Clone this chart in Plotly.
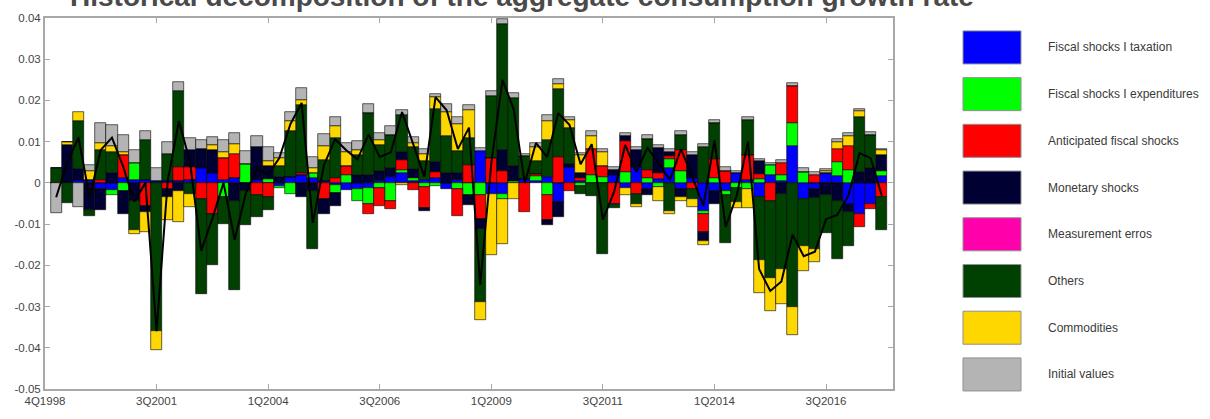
import plotly.graph_objects as go

# quarter index of each bar (1 = first observation after 4Q1998)
periods = list(range(1, 76))

tick_pos = [0, 10, 20, 30, 40, 50, 60, 70]
tick_labels = ['4Q1998', '3Q2001', '1Q2004', '3Q2006', '1Q2009', '3Q2011', '1Q2014', '3Q2016']

y_ticks = [-0.05, -0.04, -0.03, -0.02, -0.01, 0, 0.01, 0.02, 0.03, 0.04]
y_labels = ['-0.05', '-0.04', '-0.03', '-0.02', '-0.01', '0', '0.01', '0.02', '0.03', '0.04']

# contributions
taxation = [0, 0.0003, 0.0008, 0.0008, -0.0015, -0.0018, 0.0012, 0.0008, 0.0008, 0.0005,
            0.0005, 0.0004, 0.0008, 0.0035, 0.0025, 0.0008, 0.0012, 0, 0.0008, 0,
            -0.0008, 0.0015, 0.0018, 0.0012, 0.0005, -0.0005, -0.0018, -0.0015, -0.0012, 0.0005,
            0.0015, 0.0023, 0.0005, 0.0008, 0.0012, -0.0016, 0.0008, 0, 0.0078, -0.0028,
            -0.0028, 0, 0.001, 0.0005, 0.0015, -0.0047, 0.0039, 0.0004, 0, 0,
            0.0018, -0.0012, 0.0039, -0.0015, 0.001, 0.0035, -0.0015, 0.0012, -0.0067, -0.002,
            -0.002, 0.0025, 0.0008, -0.0035, 0.002, 0.0005, 0.009, -0.0039, -0.0015, 0.0024,
            0.0016, -0.005, -0.0075, -0.005, 0.0016]
expenditures = [0, 0, 0, 0, 0, -0.0012, -0.002, 0.004, 0, 0,
                0, 0, 0, 0, 0, -0.0035, 0, 0.0045, 0, 0.001,
                -0.0005, -0.0028, 0, 0.0012, 0, -0.002, 0.002, -0.003, -0.004, -0.0012,
                -0.0043, 0.0008, 0.0008, -0.001, -0.0008, 0, -0.0015, -0.003, -0.003, 0,
                -0.0012, 0.0005, 0, 0.0012, -0.003, 0, 0, -0.0007, 0.002, 0.0015,
                0, 0.0027, 0, 0.0012, -0.001, 0.0022, 0.003, 0, -0.0008, 0.0012,
                -0.001, -0.0012, -0.0015, 0.001, 0.0023, 0.0015, 0.0055, 0.0027, 0, 0,
                0.0035, 0.0031, 0, 0, 0.0012]
anticipated = [0, 0, 0, 0, 0.0006, 0, 0.0055, 0, -0.0055, 0,
               -0.0015, 0.0035, 0.003, -0.004, -0.0075, 0.0052, 0.0058, 0, -0.003, -0.0035,
               0, 0, 0.0005, 0, -0.0039, 0.0012, 0.002, 0, -0.0023, -0.0045,
               -0.002, 0.0024, -0.0018, -0.005, 0.0015, 0, -0.0065, 0.0043, -0.0058, 0.006,
               0.003, 0, -0.007, 0.0005, -0.006, 0.0063, -0.002, 0.0008, 0.0062, 0.0025,
               -0.005, 0.0075, -0.0027, 0.002, 0.0015, 0.0008, 0.005, -0.0015, -0.0043, 0.0045,
               0.003, 0, 0.006, 0.0012, -0.0045, 0.0028, 0.009, 0, 0.002, 0,
               0.0031, 0.0059, -0.0033, -0.0013, -0.0035]
monetary = [0, 0.009, 0.0025, -0.0065, -0.005, 0.0023, -0.0055, -0.0045, -0.0015, 0,
            -0.002, -0.002, 0.0042, 0.0047, 0.0055, 0, -0.0043, -0.002, 0.0078, 0.003,
            0.0015, 0, -0.0035, -0.002, -0.0036, -0.003, 0, 0.0018, 0.002, 0.0025,
            0.002, 0.002, 0.002, -0.0008, 0.0024, 0.0023, 0.0015, -0.0024, -0.0025, 0,
            0.005, 0.0035, 0, 0, -0.0012, -0.0035, 0.0008, 0.0012, 0, 0,
            0.0014, 0.0012, 0.004, -0.0015, 0.006, 0.001, -0.002, 0.0055, -0.0024, -0.003,
            0, 0, 0, 0.003, 0, -0.0027, 0, 0, -0.0022, -0.003,
            -0.0045, -0.002, 0.0027, 0.0035, 0.004]
others = [0.0037, -0.0048, 0.0118, -0.0015, 0.0075, 0.0052, 0, -0.007, 0.0095, -0.036,
          0.0065, 0.0185, -0.0028, -0.023, -0.0123, -0.0065, -0.0217, -0.0082, -0.0052, -0.003,
          0.0025, 0.011, 0.0167, -0.014, 0.005, 0.0098, 0, 0.005, 0.0149, 0.0062,
          0.0082, 0.009, 0.0055, 0.0045, 0.0129, 0.0091, 0.0055, 0.0067, -0.0177, 0.0152,
          0.0306, 0.0165, 0.0055, 0.003, 0.009, 0.0164, 0.0086, -0.002, -0.0031, -0.0172,
          -0.001, 0, -0.0024, 0.0075, 0, -0.0067, 0.0035, -0.0025, 0.0086, 0.0088,
          -0.0115, -0.0035, 0.0085, -0.0153, -0.0186, -0.0183, -0.0301, -0.0114, -0.0123, -0.0092,
          -0.0139, -0.0083, 0.0134, 0.0081, -0.0079]
commodities = [0, 0.0005, 0.0022, 0.002, 0.0015, 0.0015, 0.0008, -0.0008, -0.005, -0.0045,
               -0.0055, -0.0075, -0.003, 0, 0.0012, 0.0015, 0.0024, 0, 0, 0.0012,
               0.002, 0.0024, 0.0012, 0.0012, 0.0035, 0.0027, 0.0035, 0.0012, 0, 0.0012,
               0, -0.0004, 0.0008, 0.0018, 0.0028, 0.0059, 0.0065, 0.0066, -0.0042, -0.0148,
               -0.0108, -0.004, 0, 0.0035, 0.0045, 0.0012, 0.002, 0.0043, 0.0032, 0.0035,
               0, -0.0018, -0.0008, 0, -0.0035, -0.0008, -0.0008, -0.0019, -0.0008, 0,
               0, -0.0013, -0.0045, -0.0079, -0.0079, -0.0084, -0.0068, -0.006, -0.0033, 0.0004,
               0.0016, 0.0024, 0.0014, 0, 0.0011]
initial = [-0.0072, 0, -0.0058, 0.0015, 0.005, 0.005, 0.004, 0.0032, 0.0022, 0.003,
           0.0028, 0.0021, 0.0028, 0.0023, 0.002, 0.0028, 0.0028, 0.0033, 0.0028, 0.0034,
           0.0012, 0.0023, 0.0027, 0.0027, 0.0028, 0.0024, 0.0022, 0.0022, 0.0023, 0.0016,
           0.002, 0.0011, 0.0016, 0.0012, 0.0008, 0.0019, 0.0017, 0.0012, 0.0007, 0.0012,
           0.0012, 0.0014, 0.0005, 0.001, 0.0015, 0.0012, 0.0008, 0.0005, 0.0011, 0.0008,
           0.0006, 0.0008, 0.0007, 0.0008, 0.0008, 0.0007, 0.001, 0.0008, 0.0008, 0.0008,
           0.0008, 0.0005, 0.0007, 0.0006, 0.0005, 0.0007, 0.0008, 0.0008, 0.0006, 0.0006,
           0.0008, 0.0008, 0.0005, 0.0007, 0.0004]

# consumption growth (black line)
growth = [-0.0035, 0.005, 0.011, -0.0035, 0.008, 0.011, 0.004, -0.0045, 0.0, -0.036,
          0.0005, 0.015, 0.005, -0.0165, -0.0086, 0.0, -0.0138, -0.0025, 0.0035, 0.002,
          0.006, 0.0143, 0.0194, -0.0097, 0.0043, 0.0106, 0.0079, 0.0057, 0.0117, 0.0063,
          0.0074, 0.0172, 0.0094, 0.0015, 0.0208, 0.0176, 0.0082, 0.0134, -0.0247, 0.0048,
          0.025, 0.0179, 0.0, 0.0097, 0.0063, 0.0169, 0.0141, 0.0045, 0.0094, -0.0089,
          -0.0022, 0.0092, 0.0027, 0.0085, 0.0048, 0.0007, 0.0082, 0.0016, -0.0056, 0.0103,
          -0.0107, -0.003, 0.01, -0.0209, -0.0262, -0.0239, -0.0126, -0.0178, -0.0167, -0.0088,
          -0.0078, -0.0031, 0.0072, 0.006, -0.0031]

names = ['Fiscal shocks I taxation', 'Fiscal shocks I expenditures', 'Anticipated fiscal shocks',
         'Monetary shocks', 'Measurement erros', 'Others', 'Commodities', 'Initial values']
colors = ['#0000ff', '#00ff00', '#ff0000', '#000033', '#ff00aa', '#004000', '#ffd700', '#b4b4b4']

series = [taxation, expenditures, anticipated, monetary, None, others, commodities, initial]

FONT = 'Liberation Sans, Arial, sans-serif'

# plot area in pixels (figure is 1210 x 419)
L, R, T, B = 45, 893, 15, 397


def px(x):
    return (x - L) / (R - L)


def py(y):
    return (B - y) / (B - T)


fig = go.Figure()

for name, color, vals in zip(names, colors, series):
    if vals is None:
        continue
    fig.add_trace(go.Bar(
        x=periods, y=vals, name=name,
        marker=dict(color=color, line=dict(color='black', width=0.6)),
        showlegend=False,
    ))

fig.add_trace(go.Scatter(
    x=periods, y=growth, mode='lines', name='growth',
    line=dict(color='black', width=2), showlegend=False,
))

# legend drawn as large swatches, the way the original figure has them
shapes = []
annotations = []
for k, (name, color) in enumerate(zip(names, colors)):
    top = 28.3 + 48.1 * k
    shapes.append(dict(
        type='rect', xref='paper', yref='paper',
        x0=px(963), x1=px(1021), y0=py(top + 34), y1=py(top),
        fillcolor=color, line=dict(color='#909090', width=1),
    ))
    annotations.append(dict(
        xref='paper', yref='paper', x=px(1046), y=py(top + 17),
        xanchor='left', yanchor='middle', showarrow=False,
        text=name, font=dict(family=FONT, size=12, color='#3a3a3a'),
    ))

# title, cut off by the top edge as in the original
annotations.append(dict(
    xref='paper', yref='paper', x=px(522), y=py(11),
    xanchor='center', yanchor='bottom', showarrow=False,
    text='<b>Historical decomposition of the aggregate consumption growth rate</b>',
    font=dict(family=FONT, size=28, color='#4a4a4a'),
))

fig.update_layout(
    width=1210, height=419,
    margin=dict(l=L, r=1210 - R, t=T, b=419 - B),
    barmode='relative', bargap=0,
    plot_bgcolor='white', paper_bgcolor='white',
    showlegend=False,
    shapes=shapes, annotations=annotations,
    font=dict(family=FONT, size=11, color='#444444'),
)

fig.update_xaxes(
    range=[0, 76], tickvals=tick_pos, ticktext=tick_labels,
    showgrid=False, zeroline=False,
    showline=True, linecolor='#a8a8a8', linewidth=2, mirror='ticks',
    ticks='inside', ticklen=5, tickcolor='#a8a8a8',
    tickfont=dict(family=FONT, size=11.5, color='#444444'),
)
fig.update_yaxes(
    range=[-0.05, 0.04], tickvals=y_ticks, ticktext=y_labels,
    showgrid=False, zeroline=False,
    showline=True, linecolor='#a8a8a8', linewidth=2, mirror='ticks',
    ticks='inside', ticklen=5, tickcolor='#a8a8a8',
    tickfont=dict(family=FONT, size=11.5, color='#444444'),
)

# the page body has a default 8px margin; drop it so the figure sits at the corner
fig.write_html("out.html", config={'displayModeBar': False},
               post_script="document.body.style.margin='0';")
